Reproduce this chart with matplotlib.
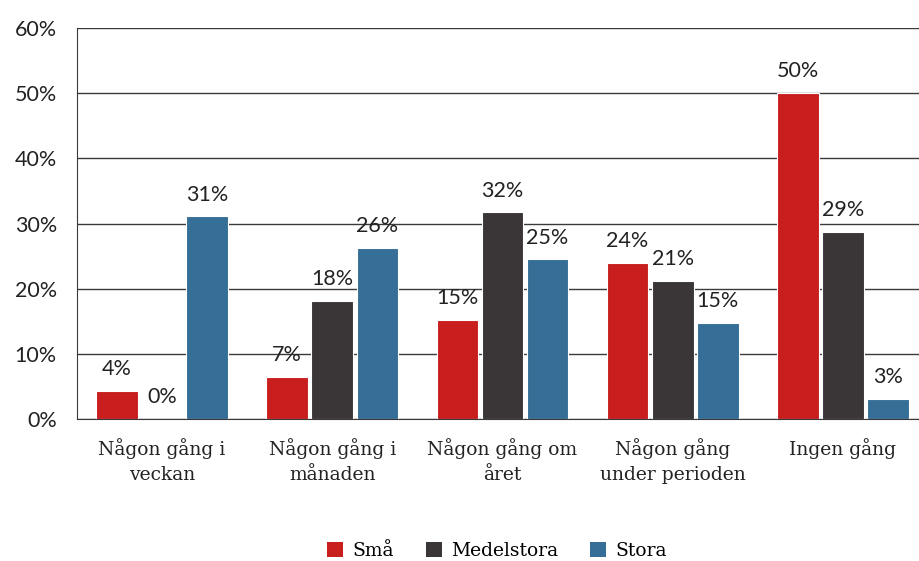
import numpy as np
import matplotlib
matplotlib.use("Agg")
import matplotlib.pyplot as plt
from matplotlib.patches import Patch

categories = ["Någon gång i\nveckan", "Någon gång i\nmånaden", "Någon gång om\nåret",
              "Någon gång\nunder perioden", "Ingen gång"]
series_names = ["Små", "Medelstora", "Stora"]
smaa = [4.3, 6.4, 15.2, 23.9, 50.0]
medel = [0.0, 18.1, 31.7, 21.2, 28.7]
stora = [31.1, 26.2, 24.5, 14.7, 3.1]
labels_smaa = ["4%", "7%", "15%", "24%", "50%"]
labels_medel = ["0%", "18%", "32%", "21%", "29%"]
labels_stora = ["31%", "26%", "25%", "15%", "3%"]
yticks = [0, 10, 20, 30, 40, 50, 60]

colors = ["#C81E1E", "#3A3536", "#356E96"]
sans = "Lato"
serif = "DejaVu Serif"

fig = plt.figure(figsize=(9.2, 5.61), dpi=100)
ax = fig.add_axes([77 / 920, 1 - 419 / 561, (928 - 77) / 920, (419 - 28) / 561])

x = np.arange(len(categories))
w = 0.245
offs = [-0.265, 0, 0.265]
for vals, labs, off, c in zip([smaa, medel, stora], [labels_smaa, labels_medel, labels_stora], offs, colors):
    bars = ax.bar(x + off, vals, w, color=c, edgecolor="white", linewidth=0.8, zorder=3)
    for b, lab in zip(bars, labs):
        ax.annotate(lab, (b.get_x() + b.get_width() / 2, b.get_height()),
                    xytext=(0, 8.5), textcoords="offset points", ha="center", va="bottom",
                    fontsize=15.5, family=sans, color="#222222", zorder=4)

ax.set_xlim(-0.5, len(categories) - 0.5)
ax.set_ylim(0, 60)
ax.set_yticks(yticks)
ax.set_yticklabels([f"{v}%" for v in yticks], family=sans, fontsize=15.5, color="#222222")
ax.yaxis.grid(True, color="#3a3a3a", linewidth=1.0, zorder=1)
ax.set_axisbelow(True)
ax.set_xticks(x)
ax.set_xticklabels(categories, family=serif, fontsize=13.5, color="#222222", linespacing=1.45)
ax.tick_params(axis="both", length=0)
ax.tick_params(axis="x", pad=14)
ax.tick_params(axis="y", pad=14.5)
for s in ["top", "right"]:
    ax.spines[s].set_visible(False)
ax.spines["left"].set_color("#3a3a3a")
ax.spines["bottom"].set_color("#3a3a3a")
ax.spines["bottom"].set_zorder(5)

handles = [Patch(facecolor=c, edgecolor="none") for c in colors]
fig.legend(handles, series_names, loc="center", bbox_to_anchor=(497 / 920, 1 - 551 / 561),
           ncol=3, frameon=False, prop={"family": serif, "size": 13.5},
           handlelength=0.85, handleheight=0.85, handletextpad=0.5, columnspacing=1.7)

fig.savefig("out.png", dpi=100)
